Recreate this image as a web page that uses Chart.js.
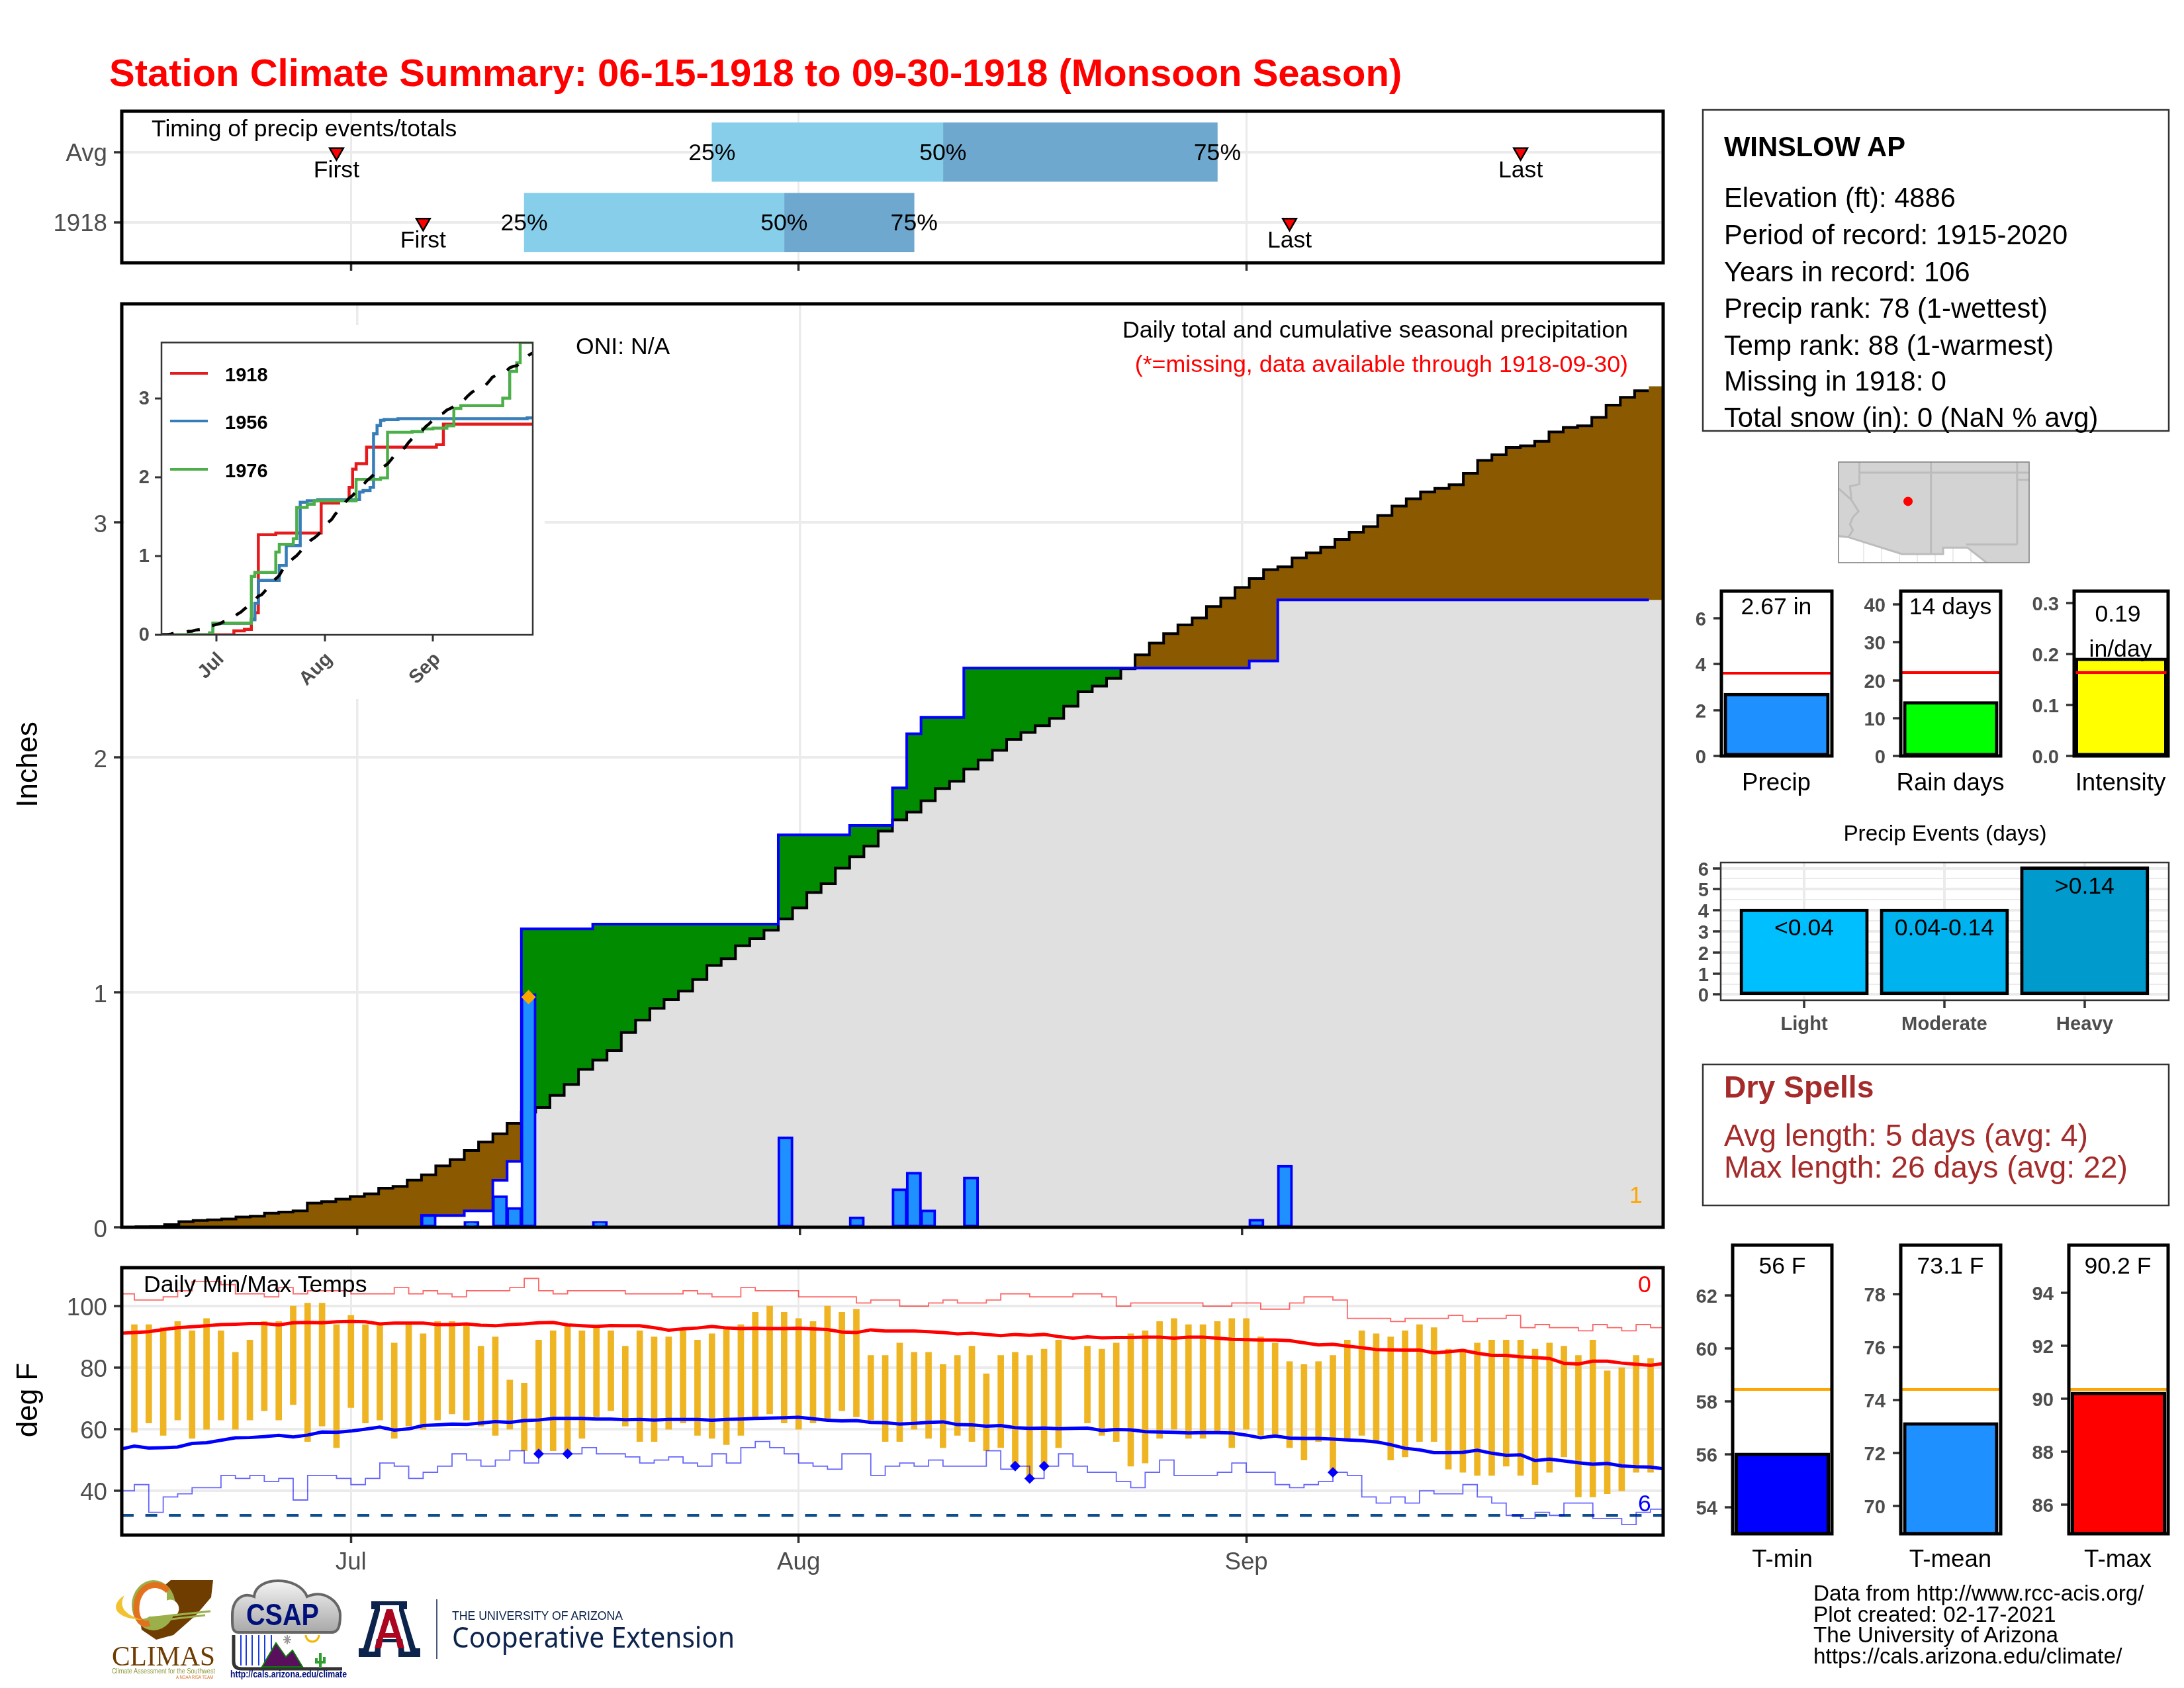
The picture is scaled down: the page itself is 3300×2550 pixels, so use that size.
<!DOCTYPE html>
<html>
<head>
<meta charset="utf-8">
<title>Station Climate Summary</title>
<script src="https://cdn.jsdelivr.net/npm/chart.js@4.4.0/dist/chart.umd.js"></script>
<style>
  html, body { margin: 0; background: #fff; }
  #page { position: relative; width: 3300px; height: 2550px; overflow: hidden; background: #fff; }
  #page canvas, #page svg, #page div { position: absolute; }
</style>
</head>
<body>
<div id="page"></div>
<script>
// day index 0 = Jun 15, 107 = Sep 30
const monthTicks = [16, 47, 78];
const monthLabels = ['Jul', 'Aug', 'Sep'];

// timing panel (day index of first / 25% / 50% / 75% / last)
const timingRows = [2, 1];
const timingNames = ['Avg', '1918'];
const timingAvg = [15, 41, 57, 76, 97];
const timing1918 = [21, 28, 46, 55, 81];

// daily precip 1918
const precipDays = [21, 24, 26, 27, 28, 33, 46, 51, 54, 55, 56, 59, 79, 81];
const precipAmounts = [0.05, 0.02, 0.13, 0.08, 0.99, 0.02, 0.38, 0.04, 0.16, 0.23, 0.07, 0.21, 0.03, 0.26];
const maxPrecipDay = [28];
const maxPrecipValue = [0.98];

// average cumulative precip
const avgCum = [
  0, 0.002, 0.003, 0.011, 0.024, 0.029, 0.032, 0.035, 0.044, 0.047,
  0.060, 0.065, 0.070, 0.103, 0.109, 0.120, 0.131, 0.142, 0.166, 0.174,
  0.201, 0.223, 0.261, 0.288, 0.327, 0.363, 0.398, 0.442, 0.490, 0.510,
  0.561, 0.608, 0.672, 0.711, 0.752, 0.829, 0.882, 0.932, 0.969, 1.005,
  1.054, 1.114, 1.143, 1.198, 1.228, 1.264, 1.312, 1.359, 1.425, 1.462,
  1.528, 1.577, 1.622, 1.686, 1.734, 1.767, 1.815, 1.867, 1.898, 1.950,
  1.988, 2.030, 2.076, 2.106, 2.135, 2.166, 2.218, 2.279, 2.303, 2.336,
  2.377, 2.436, 2.486, 2.526, 2.564, 2.593, 2.642, 2.678, 2.723, 2.761,
  2.799, 2.811, 2.849, 2.870, 2.894, 2.927, 2.958, 2.982, 3.029, 3.069,
  3.100, 3.129, 3.145, 3.160, 3.209, 3.264, 3.288, 3.319, 3.326, 3.345,
  3.385, 3.404, 3.411, 3.447, 3.499, 3.532, 3.560, 3.579
];

// inset comparison years
const days1956 = [0, 15, 26, 27, 28, 34, 36, 40, 42, 45, 57, 58, 60, 61, 62, 63, 64, 68, 105, 107];
const cum1956 = [0, 0.147, 0.19, 0.40, 0.69, 0.88, 1.13, 1.68, 1.70, 1.715, 1.81, 1.83, 1.87, 2.55, 2.655, 2.72, 2.73, 2.74, 2.75, 2.75];
const days1976 = [0, 14, 15, 26, 27, 33, 34, 38, 39, 42, 44, 56, 63, 65, 72, 75, 78, 82, 84, 86, 98, 100, 102, 103, 107];
const cum1976 = [0, 0.026, 0.147, 0.74, 0.79, 1.05, 1.147, 1.22, 1.616, 1.655, 1.70, 1.97, 1.99, 2.567, 2.577, 2.61, 2.62, 2.65, 2.87, 2.905, 3.00, 3.34, 3.45, 3.705, 3.705];

// daily temps
const tMax = [
  null, 94, 94, 93, 95, 92, 96, 92, 85, 89, 95,
  95, 100, 101, 101, 94, 97, 94, 94, 88, 94,
  91, 95, 95, 94, 87, 90, 76, 75, 89, 92,
  94, 92, 93, 92, 87, 92, 90, 90, 92, 89,
  91, 93, 94, 98, 100, 98, 96, 95, 100, 98,
  99, 84, 84, 88, 85, 85, 81, 84, 87, 78,
  84, 85, 84, 86, 89, null, 87, 86, 88, 91,
  92, 95, 96, 94, 94, 95, 96, 96, 90, 88,
  82, 81, 82, 84, 89, 92, 91, 90, 92, 94,
  93, 86, 86, 88, 89, 89, 89, 86, 88, 87,
  84, 89, 79, 80, 84, 83, null
];
const tMin = [
  null, 59, 62, 58, 63, 57, 60, 63, 60, 63, 66,
  63, 68, 56, 61, 54, 67, 62, 63, 57, 61,
  60, 63, 65, 63, 61, 58, 60, 53, 52, 53,
  52, 57, 64, 66, 61, 56, 56, 60, 62, 58,
  57, 55, 58, 64, 65, 62, 60, 62, 63, 66,
  64, 63, 56, 56, 60, 57, 54, 58, 56, 53,
  54, 48, 44, 48, 54, null, 62, 58, 56, 48,
  49, 57, 60, 57, 57, 59, 54, 60, 58, 58,
  54, 50, 56, 46, 57, 58, 56, 50, 51, 56,
  56, 47, 46, 45, 45, 48, 45, 42, 46, 51,
  38, 38, 39, 40, 46, 46, null
];
const avgHigh = [
  91.2, 91.4, 91.7, 92.4, 93.0, 93.3, 93.6, 94.0, 94.1, 94.3,
  94.3, 93.9, 94.6, 94.7, 94.6, 94.9, 95.0, 94.9, 94.2, 94.5,
  94.5, 94.5, 94.0, 94.0, 94.2, 93.8, 93.6, 94.0, 94.2, 94.6,
  94.7, 93.9, 93.6, 93.4, 93.7, 93.6, 93.6, 93.0, 92.2, 92.6,
  92.9, 93.4, 92.9, 92.7, 92.8, 92.7, 92.7, 92.8, 92.6, 92.4,
  91.6, 91.4, 92.3, 91.9, 91.9, 91.9, 91.7, 91.4, 91.0, 91.2,
  90.8, 90.4, 90.8, 90.5, 90.8, 90.1, 89.6, 90.0, 89.7, 89.8,
  89.8, 89.9, 89.9, 89.6, 89.9, 89.9, 89.6, 89.2, 89.1, 89.0,
  89.0, 88.8, 88.1, 87.4, 87.6, 87.0, 86.5, 85.9, 85.8, 85.7,
  85.7, 84.8, 85.2, 85.6, 84.7, 84.0, 84.0, 83.5, 83.3, 83.0,
  81.4, 81.2, 82.1, 82.1, 81.5, 81.1, 80.8, 81.4
];
const avgLow = [
  53.5, 54.5, 53.9, 54.0, 54.2, 55.4, 55.6, 56.4, 57.2, 57.3,
  57.6, 58.0, 57.5, 58.1, 59.1, 59.0, 59.4, 60.0, 60.7, 59.7,
  60.1, 61.2, 61.4, 61.7, 61.6, 62.0, 62.5, 62.2, 62.8, 63.0,
  63.5, 63.5, 63.5, 63.3, 63.3, 63.1, 63.2, 63.0, 63.2, 63.2,
  63.2, 62.9, 63.2, 63.3, 63.5, 63.6, 63.7, 63.9, 63.4, 62.9,
  62.7, 62.8, 62.2, 62.1, 61.7, 61.9, 62.2, 62.4, 61.5, 61.4,
  61.0, 61.2, 60.5, 60.3, 60.4, 60.2, 60.3, 60.4, 59.6, 59.9,
  59.8, 59.2, 59.1, 59.0, 58.8, 58.9, 58.9, 58.8, 58.1, 57.2,
  57.8, 57.1, 57.0, 57.0, 56.8, 56.5, 56.3, 55.9, 55.0, 53.8,
  53.3, 52.4, 52.4, 52.5, 53.2, 52.2, 51.5, 51.7, 49.8, 50.3,
  49.7, 49.1, 48.6, 48.9, 48.1, 47.8, 47.7, 47.1
];
const recordHigh = [
  104, 102, 102, 103, 105, 108, 108, 107, 104, 104,
  103, 106, 104, 105, 105, 105, 104, 104, 104, 106,
  104, 105, 104, 103, 105, 105, 105, 106, 109, 105,
  104, 105, 105, 105, 105, 104, 104, 104, 104, 105,
  104, 103, 103, 106, 105, 105, 105, 103, 103, 103,
  103, 101, 102, 102, 100, 100, 101, 102, 101, 101,
  102, 104, 104, 103, 103, 103, 104, 104, 103, 100,
  101, 101, 101, 101, 101, 100, 100, 101, 101, 99,
  99, 101, 103, 103, 102, 96, 96, 96, 95, 96,
  96, 96, 97, 95, 96, 96, 97, 93, 94, 93,
  93, 92, 94, 93, 92, 94, 93, 93
];
const recordLow = [
  40, 42, 33, 38, 39, 41, 41, 45, 44, 45,
  43, 44, 37, 45, 45, 44, 42, 44, 49, 48,
  44, 46, 48, 52, 50, 48, 50, 53, 49, 52,
  52, 52, 54, 52, 52, 51, 49, 50, 51, 49,
  48, 52, 49, 54, 56, 54, 52, 49, 48, 47,
  52, 52, 45, 48, 49, 48, 50, 48, 48, 48,
  53, 47, 48, 44, 48, 52, 48, 46, 46, 43,
  41, 46, 50, 45, 45, 45, 46, 49, 46, 46,
  42, 41, 42, 43, 46, 45, 38, 36, 38, 36,
  40, 39, 39, 42, 38, 36, 32, 31, 33, 32,
  36, 36, 31, 31, 29, 33, 34, 34
];
const tiedLowDays = [29, 31, 62, 63, 64, 84];
const tiedLowValues = [52, 52, 48, 44, 48, 46];
const freezeLine = [32, 32];

// summary bars
const eventNames = ['Light', 'Moderate', 'Heavy'];
const eventRanges = ['<0.04', '0.04-0.14', '>0.14'];
const eventCounts = [4, 4, 6];
const intensityTicks = [0, 0.1, 0.2, 0.3];
const intensityLabels = ['0.0', '0.1', '0.2', '0.3'];

// map outlines, lon / lat
const southLon = [-115.5, -114.8, -111.07, -109.05, -108.2, -108.2, -106.5, -105.0, -102.2];
const southLat = [32.6, 32.5, 31.33, 31.33, 31.33, 31.78, 31.78, 30.6, 30.6];
const riverLon = [-114.04, -114.04, -114.7, -114.6, -114.1, -114.5, -114.7, -114.5, -114.8];
const riverLat = [37.74, 36.2, 36.05, 35.1, 34.3, 33.9, 33.4, 33.0, 32.5];
const stationLon = [-110.65];
const stationLat = [35.0];

Chart.defaults.font.family = '"Liberation Sans", Arial, sans-serif';
Chart.defaults.color = '#4d4d4d';

const page = document.getElementById('page');
const GRID = '#ebebeb';
const TICK = '#333333';

// stroked rectangle around the plot area
const framePlugin = {
  id: 'frame',
  afterDraw(chart, args, opts) {
    const a = chart.chartArea;
    chart.ctx.save();
    chart.ctx.strokeStyle = opts.color || '#000';
    chart.ctx.lineWidth = opts.width || 5;
    chart.ctx.strokeRect(a.left, a.top, a.right - a.left, a.bottom - a.top);
    chart.ctx.restore();
  }
};

// text tied to data positions
const notesPlugin = {
  id: 'notes',
  afterDatasetsDraw(chart, args, opts) {
    const ctx = chart.ctx;
    (opts.items || []).forEach(n => {
      ctx.save();
      ctx.font = (n.size || 35.6) + 'px "Liberation Sans"';
      ctx.fillStyle = n.color || '#000';
      ctx.textAlign = 'center';
      ctx.textBaseline = 'alphabetic';
      ctx.fillText(n.text, chart.scales.x.getPixelForValue(n.x), chart.scales.y.getPixelForValue(n.y) + (n.dy || 0));
      ctx.restore();
    });
  }
};

function makeChart(box, pad, config) {
  const c = document.createElement('canvas');
  c.width = box.w + pad.left + pad.right;
  c.height = box.h + pad.top + pad.bottom;
  c.style.left = (box.x - pad.left) + 'px';
  c.style.top = (box.y - pad.top) + 'px';
  page.appendChild(c);
  const opts = config.options;
  opts.responsive = false;
  opts.animation = false;
  opts.devicePixelRatio = 1;
  opts.layout = { padding: { top: pad.top, right: pad.right, left: 0, bottom: 0 } };
  opts.plugins = Object.assign({ legend: { display: false }, tooltip: { enabled: false } }, opts.plugins);
  // the axis boxes are forced to the margins so the plot area lands exactly on box
  Object.values(opts.scales).forEach(s => {
    s.afterFit = scale => {
      if (scale.isHorizontal()) scale.height = pad.bottom; else scale.width = pad.left;
    };
  });
  config.plugins = [framePlugin, notesPlugin];
  return new Chart(c, config);
}

function fixedScale(min, max, tickValues, labels, extra) {
  const e = extra || {};
  return {
    type: 'linear', min: min, max: max, offset: false,
    afterBuildTicks: s => { s.ticks = tickValues.map(v => ({ value: v })); },
    border: { display: false },
    grid: Object.assign({ offset: false, color: GRID, lineWidth: 4, tickColor: TICK, tickWidth: 3.5, tickLength: 12 }, e.grid),
    ticks: Object.assign({
      display: !!labels, autoSkip: false, padding: 10, maxRotation: 0, minRotation: 0,
      font: { size: 36.7 }, color: '#4d4d4d',
      callback: v => labels ? labels[tickValues.indexOf(v)] : ''
    }, e.ticks)
  };
}

// same, with the labels nudged down to sit on their tick marks
function valueScale(min, max, tickValues, labels, extra) {
  const e = extra || {};
  return fixedScale(min, max, tickValues, labels, {
    grid: e.grid,
    ticks: Object.assign({ labelOffset: 3 }, e.ticks)
  });
}

function points(xs, ys) {
  return xs.map((x, i) => ({ x: x, y: ys[i] }));
}

// ---------- timing panel ----------
const timingBox = { x: 184, y: 168, w: 2329, h: 229 };
function timingBars(row, vals) {
  return [
    { type: 'bar', indexAxis: 'y', data: [{ y: row, x: [vals[1], vals[2]] }], backgroundColor: '#87CEEB', barThickness: 89, grouped: false, order: 3 },
    { type: 'bar', indexAxis: 'y', data: [{ y: row, x: [vals[2], vals[3]] }], backgroundColor: '#6FA8CF', barThickness: 89, grouped: false, order: 3 }
  ];
}
function timingNotes(row, vals) {
  return [
    { x: vals[1], y: row, text: '25%', dy: 12 }, { x: vals[2], y: row, text: '50%', dy: 12 }, { x: vals[3], y: row, text: '75%', dy: 12 },
    { x: vals[0], y: row, text: 'First', dy: 38 }, { x: vals[4], y: row, text: 'Last', dy: 38 }
  ];
}
makeChart(timingBox, { left: 170, right: 40, top: 50, bottom: 60 }, {
  type: 'line',
  data: {
    datasets: [
      { data: [{ x: timingAvg[0], y: 2 }, { x: timingAvg[4], y: 2 }, { x: timing1918[0], y: 1 }, { x: timing1918[4], y: 1 }],
        showLine: false, pointStyle: 'triangle', rotation: 180, pointRadius: 12, pointBackgroundColor: '#ff0000', pointBorderColor: '#000', pointBorderWidth: 2.5, order: 1 }
    ].concat(timingBars(2, timingAvg), timingBars(1, timing1918))
  },
  options: {
    scales: {
      x: fixedScale(0.13, 106.87, monthTicks, null, { grid: { lineWidth: 3 } }),
      y: valueScale(0.43, 2.58, timingRows, timingNames)
    },
    plugins: {
      frame: { width: 5 },
      notes: { items: timingNotes(2, timingAvg).concat(timingNotes(1, timing1918)) }
    }
  }
});

// ---------- main precip panel ----------
const dayIndex = avgCum.map((v, i) => i);
const obsCum = [];
let running = 0;
dayIndex.forEach(i => {
  const k = precipDays.indexOf(i);
  if (k >= 0) running += precipAmounts[k];
  obsCum.push(Math.round(running * 1000) / 1000);
});
const endDays = dayIndex.slice(0, 107).concat([106.5]);
const endAvg = avgCum.slice(0, 107).concat([avgCum[106]]);
const endObs = obsCum.slice(0, 107).concat([obsCum[106]]);
const fullDays = dayIndex.concat([107.5]);
const fullAvg = avgCum.concat([avgCum[107]]);
const fullObs = obsCum.concat([obsCum[107]]);
const grayDays = fullDays.slice(28);
const grayLevel = grayDays.map((d, i) => Math.min(fullAvg[i + 28], fullObs[i + 28]));

const mainBox = { x: 184, y: 459, w: 2329, h: 1395 };
makeChart(mainBox, { left: 170, right: 40, top: 50, bottom: 60 }, {
  type: 'line',
  data: {
    datasets: [
      { data: points(maxPrecipDay, maxPrecipValue), showLine: false, pointStyle: 'rectRot', pointRadius: 11, pointBackgroundColor: '#FFA500', pointBorderWidth: 0 },
      { type: 'bar', data: points(precipDays, precipAmounts), backgroundColor: '#1E90FF', borderColor: '#0000FF', borderWidth: 4, borderSkipped: false, barThickness: 20, inflateAmount: 2, grouped: false },
      { data: points(endDays, endObs), stepped: 'middle', borderColor: '#0000FF', borderWidth: 4, pointRadius: 0 },
      { data: points(endDays, endAvg), stepped: 'middle', borderColor: '#000', borderWidth: 4, pointRadius: 0 },
      { data: points(fullDays, fullObs), stepped: 'middle', borderWidth: 0, pointRadius: 0, fill: { target: 5, above: '#008B00', below: '#8B5A00' } },
      { data: points(fullDays, fullAvg), stepped: 'middle', borderWidth: 0, pointRadius: 0, fill: false },
      { data: points(grayDays, grayLevel), stepped: 'middle', borderWidth: 0, pointRadius: 0, backgroundColor: '#E0E0E0', fill: 'origin' }
    ]
  },
  options: {
    scales: {
      x: fixedScale(-0.5, 107.5, monthTicks, null, { grid: { lineWidth: 3.5 } }),
      y: valueScale(0, 3.93, [0, 1, 2, 3], ['0', '1', '2', '3'], { ticks: { labelOffset: 5 } })
    },
    plugins: { frame: { width: 5 } }
  }
});

// ---------- inset ----------
const insetMask = document.createElement('div');
insetMask.style.cssText = 'left:188px;top:491px;width:635px;height:565px;background:#fff;';
page.appendChild(insetMask);
const insetBox = { x: 244, y: 512, w: 561, h: 447 };
const insetTick = { lineWidth: 0, tickColor: TICK, tickWidth: 3, tickLength: 10, drawOnChartArea: false };
makeChart(insetBox, { left: 56, right: 18, top: 20, bottom: 95 }, {
  type: 'line',
  data: {
    datasets: [
      { data: points(dayIndex, avgCum), borderColor: '#000', borderWidth: 4.5, borderDash: [20, 20], pointRadius: 0 },
      { data: points(days1976, cum1976), stepped: true, borderColor: '#4DAF4A', borderWidth: 4.5, pointRadius: 0 },
      { data: points(days1956, cum1956), stepped: true, borderColor: '#377EB8', borderWidth: 4.5, pointRadius: 0 },
      { data: points(dayIndex, obsCum), stepped: true, borderColor: '#E41A1C', borderWidth: 4.5, pointRadius: 0 }
    ]
  },
  options: {
    scales: {
      x: fixedScale(0.26, 106.6, monthTicks, monthLabels, { grid: insetTick, ticks: { font: { size: 29, weight: 'bold' }, minRotation: 45, maxRotation: 45, padding: 10, labelOffset: 7 } }),
      y: valueScale(0, 3.706, [0, 1, 2, 3], ['0', '1', '2', '3'], { grid: insetTick, ticks: { font: { size: 29, weight: 'bold' }, padding: 8, labelOffset: 1 } })
    },
    plugins: { frame: { width: 2.5, color: '#333' } }
  }
});

// ---------- daily temps ----------
const tempBox = { x: 184, y: 1915, w: 2329, h: 404 };
const tempBars = dayIndex.filter(i => tMax[i] !== null).map(i => ({ x: i, y: [tMin[i], tMax[i]] }));
makeChart(tempBox, { left: 170, right: 40, top: 50, bottom: 90 }, {
  type: 'line',
  data: {
    datasets: [
      { data: points(tiedLowDays, tiedLowValues), showLine: false, pointStyle: 'rectRot', pointRadius: 8, pointBackgroundColor: '#0000FF', pointBorderWidth: 0 },
      { data: points(dayIndex, avgHigh), borderColor: '#FF0000', borderWidth: 5, pointRadius: 0 },
      { data: points(dayIndex, avgLow), borderColor: '#0000FF', borderWidth: 5, pointRadius: 0 },
      { data: points(dayIndex, recordHigh), stepped: true, borderColor: 'rgba(255,0,0,0.6)', borderWidth: 1.8, pointRadius: 0 },
      { data: points(dayIndex, recordLow), stepped: true, borderColor: 'rgba(0,0,255,0.6)', borderWidth: 1.8, pointRadius: 0 },
      { data: points([0.13, 106.87], freezeLine), borderColor: '#104E8B', borderWidth: 4.5, borderDash: [18, 17.6], pointRadius: 0 },
      { type: 'bar', data: tempBars, backgroundColor: '#EEB422', barThickness: 9, grouped: false }
    ]
  },
  options: {
    scales: {
      x: fixedScale(0.13, 106.87, monthTicks, monthLabels, { grid: { lineWidth: 3 }, ticks: { padding: 8 } }),
      y: valueScale(25.6, 112.5, [40, 60, 80, 100], ['40', '60', '80', '100'], { ticks: { labelOffset: 4 } })
    },
    plugins: { frame: { width: 5 } }
  }
});

// ---------- small summary bars ----------
function miniBar(box, yMin, yMax, ticks, tickText, value, fill, refValue, refColor, barWidth) {
  return makeChart(box, { left: 90, right: 20, top: 40, bottom: 40 }, {
    type: 'line',
    data: {
      datasets: [
        { data: [{ x: -0.5, y: refValue }, { x: 0.5, y: refValue }], borderColor: refColor, borderWidth: 4, pointRadius: 0 },
        { type: 'bar', data: [{ x: 0, y: value }], base: yMin, backgroundColor: fill, borderColor: '#000', borderWidth: 5, borderSkipped: false, barThickness: barWidth - 5, inflateAmount: 2.5, grouped: false }
      ]
    },
    options: {
      scales: {
        x: { type: 'linear', min: -0.5, max: 0.5, display: false, offset: false, grid: { offset: false } },
        y: valueScale(yMin, yMax, ticks, tickText, {
          grid: { drawOnChartArea: false, tickLength: 12 },
          ticks: { font: { size: 29.2, weight: 'bold' }, padding: 11 }
        })
      },
      plugins: { frame: { width: 5 } }
    }
  });
}
miniBar({ x: 2601, y: 893, w: 167, h: 249 }, 0, 7.17, [0, 2, 4, 6], ['0', '2', '4', '6'], 2.67, '#1E90FF', 3.6, '#FF0000', 160);
miniBar({ x: 2872, y: 893, w: 151, h: 249 }, 0, 43.5, [0, 10, 20, 30, 40], ['0', '10', '20', '30', '40'], 14, '#00FF00', 22, '#FF0000', 144);
miniBar({ x: 3134, y: 893, w: 142, h: 249 }, 0, 0.324, intensityTicks, intensityLabels, 0.19, '#FFFF00', 0.164, '#FF0000', 140);
miniBar({ x: 2618, y: 1881, w: 150, h: 436 }, 53, 63.9, [54, 56, 58, 60, 62], ['54', '56', '58', '60', '62'], 56, '#0000FF', 58.45, '#FFA500', 144);
miniBar({ x: 2872, y: 1881, w: 151, h: 436 }, 68.95, 79.85, [70, 72, 74, 76, 78], ['70', '72', '74', '76', '78'], 73.1, '#1E90FF', 74.4, '#FFA500', 144);
miniBar({ x: 3126, y: 1881, w: 150, h: 436 }, 84.9, 95.8, [86, 88, 90, 92, 94], ['86', '88', '90', '92', '94'], 90.2, '#FF0000', 90.35, '#FFA500', 144);

// ---------- precip events ----------
const eventColors = ['#00BFFF', '#00B2EE', '#009ACD'];
const halfSteps = [0, 0.5, 1, 1.5, 2, 2.5, 3, 3.5, 4, 4.5, 5, 5.5, 6];
makeChart({ x: 2600, y: 1303, w: 677, h: 208 }, { left: 70, right: 20, top: 30, bottom: 60 }, {
  type: 'bar',
  data: {
    datasets: [
      { data: eventCounts.map((v, i) => ({ x: i, y: v })), backgroundColor: eventColors, borderColor: '#000', borderWidth: 5, borderSkipped: false, barThickness: 190, inflateAmount: 2.5, grouped: false }
    ]
  },
  options: {
    scales: {
      x: fixedScale(-0.595, 2.6, [0, 1, 2], eventNames, { ticks: { font: { size: 29.2, weight: 'bold' }, padding: 7 } }),
      y: fixedScale(-0.27, 6.27, halfSteps, null, {
        grid: {
          lineWidth: c => (c.tick && c.tick.value % 1 === 0) ? 4 : 2,
          tickColor: c => (c.tick && c.tick.value % 1 === 0) ? TICK : 'rgba(0,0,0,0)',
          tickLength: 12
        },
        ticks: {
          display: true, font: { size: 29.2, weight: 'bold' }, padding: 6, labelOffset: 3,
          callback: v => (v % 1 === 0) ? String(v) : ''
        }
      })
    },
    plugins: {
      frame: { width: 2.5, color: '#333' },
      notes: { items: eventRanges.map((t, i) => ({ x: i, y: eventCounts[i], text: t, dy: 38 })) }
    }
  }
});

// ---------- locator map ----------
const mapGrid = { color: GRID, lineWidth: 2, drawTicks: false, offset: false };
function borderLine(xs, ys) {
  return { data: points(xs, ys), borderColor: '#bcbcbc', borderWidth: 3, pointRadius: 0 };
}
makeChart({ x: 2778, y: 698, w: 288, h: 152 }, { left: 20, right: 20, top: 20, bottom: 20 }, {
  type: 'line',
  data: {
    datasets: [
      { data: points(stationLon, stationLat), showLine: false, pointRadius: 7, pointBackgroundColor: '#FF0000', pointBorderWidth: 0 },
      borderLine([-114.04, -102.2], [37, 37]),
      borderLine([-109.05, -109.05], [37.74, 31.33]),
      borderLine([-103.04, -103.04], [37.74, 32]),
      borderLine([-106.6, -103.04], [32, 32]),
      borderLine([-103.04, -102.2], [36.5, 36.5]),
      borderLine([-115.5, -114.6], [35.9, 35.1]),
      { data: points(riverLon, riverLat), borderColor: '#bcbcbc', borderWidth: 3, pointRadius: 0 },
      { data: points(southLon, southLat), borderColor: '#bcbcbc', borderWidth: 3, pointRadius: 0, backgroundColor: '#D3D3D3', fill: 'end' }
    ]
  },
  options: {
    scales: {
      x: { type: 'linear', min: -115.5, max: -102.2, border: { display: false }, grid: mapGrid, ticks: { stepSize: 1.25, display: false, autoSkip: false } },
      y: { type: 'linear', min: 30.73, max: 37.74, border: { display: false }, grid: mapGrid, ticks: { stepSize: 1.25, display: false, autoSkip: false } }
    },
    plugins: { frame: { width: 1.5, color: '#7f7f7f' } }
  }
});

// ---------- text, boxes and logos on top ----------
const SVG_NS = 'http://www.w3.org/2000/svg';
const svg = document.createElementNS(SVG_NS, 'svg');
svg.setAttribute('width', 3300);
svg.setAttribute('height', 2550);
svg.style.left = '0';
svg.style.top = '0';
page.appendChild(svg);

function shape(tag, attrs) {
  const el = document.createElementNS(SVG_NS, tag);
  Object.keys(attrs).forEach(k => el.setAttribute(k, attrs[k]));
  svg.appendChild(el);
  return el;
}
function label(text, x, y, size, o) {
  o = o || {};
  const el = shape('text', Object.assign({
    x: x, y: y, 'font-size': size, fill: o.color || '#000',
    'font-family': o.family || '"Liberation Sans"', 'font-weight': o.weight || 'normal',
    'text-anchor': o.anchor || 'start'
  }, o.attrs || {}));
  el.textContent = text;
}

label('Station Climate Summary: 06-15-1918 to 09-30-1918 (Monsoon Season)', 165, 130, 58, { color: '#FF0000', weight: 'bold' });
label('Timing of precip events/totals', 229, 206, 35.6);
label('Daily total and cumulative seasonal precipitation', 2460, 510, 35.8, { anchor: 'end' });
label('(*=missing, data available through 1918-09-30)', 2460, 562, 35.8, { anchor: 'end', color: '#FF0000' });
label('ONI: N/A', 870, 535, 35.6);
label('1', 2472, 1817, 35.6, { anchor: 'middle', color: '#FFA500' });
label('Daily Min/Max Temps', 217, 1952, 35.6);
label('0', 2485, 1952, 35.6, { anchor: 'middle', color: '#FF0000' });
label('6', 2485, 2283, 35.6, { anchor: 'middle', color: '#0000FF' });
label('Inches', 56, 1155, 44, { anchor: 'middle', attrs: { transform: 'rotate(-90 56 1155)' } });
label('deg F', 56, 2115, 44, { anchor: 'middle', attrs: { transform: 'rotate(-90 56 2115)' } });

// inset legend
const legendYears = ['1918', '1956', '1976'];
const legendColors = ['#E41A1C', '#377EB8', '#4DAF4A'];
const legendY = [564, 636, 709];
legendYears.forEach((y, i) => {
  shape('line', { x1: 257, x2: 314, y1: legendY[i], y2: legendY[i], stroke: legendColors[i], 'stroke-width': 4 });
  label(y, 340, legendY[i] + 12, 29, { weight: 'bold' });
});

// station box
shape('rect', { x: 2573, y: 166, width: 704, height: 485, fill: 'none', stroke: '#333', 'stroke-width': 2.5 });
label('WINSLOW AP', 2605, 236, 41.7, { weight: 'bold' });
const infoLines = ['Elevation (ft): 4886', 'Period of record: 1915-2020', 'Years in record: 106', 'Precip rank: 78 (1-wettest)', 'Temp rank: 88 (1-warmest)', 'Missing in 1918: 0', 'Total snow (in): 0 (NaN % avg)'];
const infoY = [313, 369, 425, 480, 536, 590, 645];
infoLines.forEach((t, i) => label(t, 2605, infoY[i], 41.7));

// mini bar captions
label('2.67 in', 2684, 928, 35.6, { anchor: 'middle' });
label('14 days', 2947, 928, 35.6, { anchor: 'middle' });
label('0.19', 3200, 939, 35.6, { anchor: 'middle' });
label('in/day', 3204, 992, 35.6, { anchor: 'middle' });
label('Precip', 2684, 1194, 36.7, { anchor: 'middle' });
label('Rain days', 2947, 1194, 36.7, { anchor: 'middle' });
label('Intensity', 3204, 1194, 36.7, { anchor: 'middle' });
label('56 F', 2693, 1924, 35.6, { anchor: 'middle' });
label('73.1 F', 2947, 1924, 35.6, { anchor: 'middle' });
label('90.2 F', 3200, 1924, 35.6, { anchor: 'middle' });
label('T-min', 2693, 2367, 36.7, { anchor: 'middle' });
label('T-mean', 2947, 2367, 36.7, { anchor: 'middle' });
label('T-max', 3200, 2367, 36.7, { anchor: 'middle' });
label('Precip Events (days)', 2939, 1270, 33.3, { anchor: 'middle' });

// dry spells
shape('rect', { x: 2573, y: 1608, width: 704, height: 213, fill: 'none', stroke: '#333', 'stroke-width': 2.5 });
label('Dry Spells', 2605, 1658, 46.3, { color: '#A52A2A', weight: 'bold' });
label('Avg length: 5 days (avg: 4)', 2605, 1731, 46.3, { color: '#A52A2A' });
label('Max length: 26 days (avg: 22)', 2605, 1779, 46.3, { color: '#A52A2A' });

// credits
const creditLines = ['Data from http://www.rcc-acis.org/', 'Plot created: 02-17-2021', 'The University of Arizona', 'https://cals.arizona.edu/climate/'];
creditLines.forEach((t, i) => label(t, 2740, 2418 + i * 31.5, 33.3));

// CLIMAS logo
shape('path', { d: 'M258 2387 L322 2387 L319 2413 L296 2440 L262 2470 L236 2477 L214 2462 L208 2430 Z', fill: '#6F3D00' });
shape('ellipse', { cx: 232, cy: 2425, rx: 33, ry: 38, fill: '#9BAF4B' });
shape('path', { d: 'M252 2400 C234 2384 204 2398 205 2430 C205 2445 212 2450 226 2442 L245 2442 L268 2438 C276 2425 262 2412 252 2418 Z', fill: '#fff' });
shape('path', { d: 'M254 2403 C234 2384 206 2398 206 2430 C206 2446 214 2456 226 2452', fill: 'none', stroke: '#E2711D', 'stroke-width': 9 });
shape('path', { d: 'M188 2410 C165 2425 172 2445 215 2447 C190 2440 178 2428 188 2410 Z', fill: '#F2C230' });
shape('path', { d: 'M225 2450 L310 2440 M225 2444 L318 2434', stroke: '#9BAF4B', 'stroke-width': 3, fill: 'none' });
label('CLIMAS', 169, 2516, 42, { color: '#6F3D00', family: '"Liberation Serif"', attrs: { textLength: 156, lengthAdjust: 'spacingAndGlyphs' } });
label('Climate Assessment for the Southwest', 169, 2528, 11, { color: '#8A9A3C', attrs: { textLength: 156, lengthAdjust: 'spacingAndGlyphs' } });
label('A NOAA RISA TEAM', 266, 2536, 8, { color: '#D96A1D', attrs: { textLength: 56, lengthAdjust: 'spacingAndGlyphs' } });

// CSAP logo
const grad = shape('linearGradient', { id: 'cloudFill', x1: 0, y1: 0, x2: 0, y2: 1 });
[['0', '#f4f4f4'], ['1', '#a8a8a8']].forEach(s => {
  const st = document.createElementNS(SVG_NS, 'stop');
  st.setAttribute('offset', s[0]);
  st.setAttribute('stop-color', s[1]);
  grad.appendChild(st);
});
shape('path', { d: 'M360 2466 C350 2466 351 2455 351 2440 C351 2415 368 2405 384 2412 C386 2380 452 2380 464 2412 C490 2400 514 2420 514 2440 C514 2460 510 2466 500 2466 Z', fill: 'url(#cloudFill)', stroke: '#666', 'stroke-width': 4 });
label('CSAP', 372, 2455, 46, { color: '#00107A', weight: 'bold', attrs: { textLength: 110, lengthAdjust: 'spacingAndGlyphs' } });
shape('path', { d: 'M353 2470 L353 2510 Q353 2521 365 2521 L517 2521', stroke: '#333', 'stroke-width': 5, fill: 'none' });
[364, 372, 381, 391, 400].forEach(x => shape('line', { x1: x, x2: x, y1: 2470, y2: 2516, stroke: '#1A3BE0', 'stroke-width': 2 }));
shape('line', { x1: 410, x2: 410, y1: 2470, y2: 2492, stroke: '#1A3BE0', 'stroke-width': 2 });
shape('polygon', { points: '396,2518 417,2482 432,2503 442,2493 457,2518', fill: '#5A0F5C', stroke: '#0B7A0B', 'stroke-width': 2 });
shape('path', { d: 'M428 2477 L440 2477 M434 2470 L434 2484 M430 2472 L438 2482 M438 2472 L430 2482', stroke: '#999', 'stroke-width': 2 });
shape('path', { d: 'M462 2470 A10 10 0 0 0 482 2470', stroke: '#F2B705', 'stroke-width': 3, fill: 'none' });
shape('path', { d: 'M484 2520 L484 2497 M478 2505 L478 2511 L490 2511 L490 2503', stroke: '#2E9E2E', 'stroke-width': 4, fill: 'none' });
label('http://cals.arizona.edu/climate', 348, 2534, 15, { color: '#00107A', weight: 'bold', attrs: { textLength: 176, lengthAdjust: 'spacingAndGlyphs' } });

// University of Arizona logo
shape('polygon', { points: '561,2419 615,2419 615,2431 610,2431 628,2490 635,2490 635,2503 602,2503 602,2490 606,2490 604,2481 573,2481 571,2490 575,2490 575,2503 542,2503 542,2490 549,2490 566,2431 561,2431', fill: '#0C234B' });
shape('polygon', { points: '574,2425 603,2425 603,2433 620,2495 611,2495 608,2476 569,2476 566,2495 557,2495 574,2433', fill: '#fff' });
shape('polygon', { points: '584,2431 593,2431 611,2490 601,2490 598,2474 579,2474 576,2490 566,2490', fill: '#AB0520' });
shape('polygon', { points: '588.5,2447 595,2467 582,2467', fill: '#fff' });
shape('line', { x1: 660, x2: 660, y1: 2416, y2: 2506, stroke: '#0C234B', 'stroke-width': 1.5 });
label('THE UNIVERSITY OF ARIZONA', 683, 2447, 19, { color: '#0C234B', attrs: { textLength: 258, lengthAdjust: 'spacingAndGlyphs' } });
label('Cooperative Extension', 683, 2489, 44, { color: '#0C234B', family: '"Noto Sans"', attrs: { textLength: 427, lengthAdjust: 'spacingAndGlyphs' } });
</script>
</body>
</html>
